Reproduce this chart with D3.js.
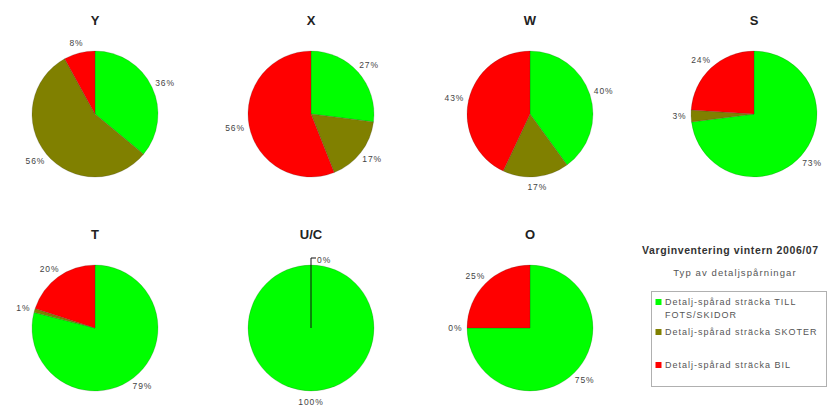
<!DOCTYPE html>
<html>
<head>
<meta charset="utf-8">
<script src="https://cdn.jsdelivr.net/npm/d3@7"></script>
<style>
  html, body { margin: 0; padding: 0; background: #fff; overflow: hidden; }
  svg { display: block; font-family: Arial, "Liberation Sans", sans-serif; }
</style>
</head>
<body>
<div id="chart"></div>
<script>
// ---------------------------------------------------------------------------
// Data (percent per area, slice order: TILL FOTS/SKIDOR, SKOTER, BIL)
// ---------------------------------------------------------------------------
const areas = ['Y', 'X', 'W', 'S', 'T', 'U/C', 'O'];
const footValues   = [36, 27, 40, 73, 79, 100, 75];
const skoterValues = [56, 17, 17, 3, 1, 0, 0];
const bilValues    = [8, 56, 43, 24, 20, 0, 25];

const seriesNames = [
  ['Detalj-spårad sträcka TILL', 'FOTS/SKIDOR'],
  ['Detalj-spårad sträcka SKOTER'],
  ['Detalj-spårad sträcka BIL']
];
const seriesColors = ['#00ff00', '#808000', '#ff0000'];

const legendTitle = 'Varginventering vintern 2006/07';
const legendSubtitle = 'Typ av detaljspårningar';

// ---------------------------------------------------------------------------
// Layout
// ---------------------------------------------------------------------------
const width = 832, height = 414;
const colX = [95, 311, 530, 754];
const rowY = [114, 328];
const titleOffset = 89;
const radius = 63;

const svg = d3.select('#chart').append('svg')
  .attr('width', width)
  .attr('height', height);

const pie = d3.pie().sort(null).value(d => d);
const arc = d3.arc().innerRadius(0).outerRadius(radius);

areas.forEach((name, i) => {
  const cx = colX[i % 4];
  const cy = rowY[Math.floor(i / 4)];
  const values = [footValues[i], skoterValues[i], bilValues[i]];
  const total = d3.sum(values);
  const fullCircle = values.some(v => v === total);
  const g = svg.append('g').attr('transform', `translate(${cx},${cy})`);

  const slices = pie(values);

  g.selectAll('path.slice')
    .data(slices.filter(d => d.value > 0))
    .join('path')
    .attr('class', 'slice')
    .attr('d', arc)
    .attr('fill', d => seriesColors[d.index])
    .attr('stroke', 'rgba(40,40,40,0.3)')
    .attr('stroke-width', 0.6);

  // Title
  g.append('text')
    .attr('x', 0)
    .attr('y', -titleOffset)
    .attr('text-anchor', 'middle')
    .attr('font-size', '13px')
    .attr('font-weight', 'bold')
    .attr('fill', '#222')
    .text(name);

  // Percent labels: one per distinct position
  const seen = new Set();
  const labels = slices.filter(d => {
    const key = d.startAngle.toFixed(4) + '_' + d.endAngle.toFixed(4) + '_' + d.value;
    if (seen.has(key)) return false;
    seen.add(key);
    return true;
  });

  const rl = radius + 6;
  labels.forEach(d => {
    const label = d.value + '%';
    if (fullCircle && d.value === 0) {
      // leader line from centre up past the rim, label to the right
      const a = d.startAngle;
      const top = radius + 7;
      g.append('path')
        .attr('d', `M0,0 L${Math.sin(a) * top},${-Math.cos(a) * top} l5,0`)
        .attr('fill', 'none')
        .attr('stroke', '#111')
        .attr('stroke-width', 1);
      g.append('text')
        .attr('x', Math.sin(a) * top + 6)
        .attr('y', -Math.cos(a) * top + 2)
        .attr('font-size', '8.5px')
        .attr('letter-spacing', '0.9px')
        .attr('fill', '#444')
        .attr('dominant-baseline', 'central')
        .text(label);
      return;
    }
    const a = (d.startAngle + d.endAngle) / 2;
    const s = Math.sin(a), c = Math.cos(a);
    const w = label.length * 5.6, h = 9;
    g.append('text')
      .attr('x', s * rl + s * w / 2)
      .attr('y', -c * rl - c * h / 2)
      .attr('text-anchor', 'middle')
      .attr('dominant-baseline', 'central')
      .attr('font-size', '8.5px')
      .attr('letter-spacing', '0.9px')
      .attr('fill', '#444')
      .text(label);
  });
});

// ---------------------------------------------------------------------------
// Legend
// ---------------------------------------------------------------------------
const lg = svg.append('g');

lg.append('text')
  .attr('x', 642)
  .attr('y', 254)
  .attr('font-size', '10.5px')
  .attr('font-weight', 'bold')
  .attr('letter-spacing', '0.6px')
  .attr('fill', '#333')
  .text(legendTitle);

lg.append('text')
  .attr('x', 735)
  .attr('y', 276)
  .attr('text-anchor', 'middle')
  .attr('font-size', '9.5px')
  .attr('letter-spacing', '1.1px')
  .attr('fill', '#555')
  .text(legendSubtitle);

lg.append('rect')
  .attr('x', 651.5)
  .attr('y', 291.5)
  .attr('width', 175)
  .attr('height', 95)
  .attr('fill', '#fff')
  .attr('stroke', '#b0b0b0')
  .attr('stroke-width', 1);

const itemY = [302, 332, 365];
seriesNames.forEach((lines, i) => {
  lg.append('rect')
    .attr('x', 655.5)
    .attr('y', itemY[i] - 3)
    .attr('width', 6)
    .attr('height', 6)
    .attr('fill', seriesColors[i]);
  const t = lg.append('text')
    .attr('x', 665)
    .attr('y', itemY[i] + 3)
    .attr('font-size', '9px')
    .attr('letter-spacing', '1px')
    .attr('fill', '#555');
  lines.forEach((line, k) => {
    t.append('tspan')
      .attr('x', 665)
      .attr('dy', k === 0 ? 0 : 13)
      .text(line);
  });
});
</script>
</body>
</html>
